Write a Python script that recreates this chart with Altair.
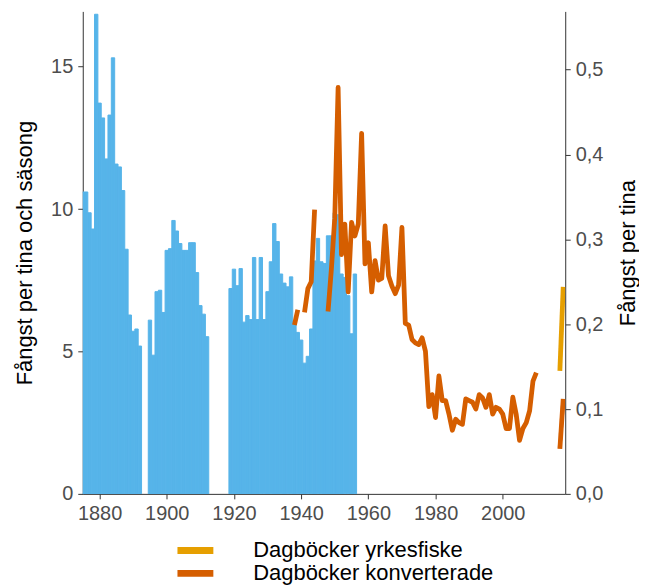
import altair as alt
import pandas as pd

# ---- data ----
bar_years = list(range(1875, 1893)) + list(range(1895, 1913)) + list(range(1919, 1957))
bar_values = [
    10.6, 10.6, 9.87, 9.3, 16.84, 13.72, 13.2, 11.76, 13.3, 15.31, 11.58, 11.48,
    10.65, 8.59, 6.28, 5.71, 5.79, 5.19,
    6.1, 4.87, 7.1, 7.15, 6.37, 8.55, 8.61, 9.6, 9.23, 8.79, 8.55, 8.55, 8.82,
    8.82, 7.77, 6.61, 6.31, 5.52,
    7.21, 7.89, 7.31, 7.91, 6.03, 6.26, 6.12, 8.3, 6.12, 8.3, 6.12, 7.1, 8.15,
    9.49, 8.86, 7.72, 7.4, 7.27, 7.62, 6.05, 5.67, 5.4, 4.59, 4.83, 5.79, 8.18,
    8.97, 8.15, 8.09, 9.06, 9.06, 9.87, 9.8, 7.72, 7.6, 6.96, 5.62, 7.72,
]

konv_years = [1938, 1939, 1941, 1942, 1943, 1944] + list(range(1948, 2011)) + [2017, 2018]
konv_values = [
    0.199, 0.217, 0.214, 0.242, 0.25, 0.335,
    0.215, 0.265, 0.325, 0.479, 0.282, 0.318, 0.238, 0.32, 0.304, 0.318, 0.425,
    0.271, 0.296, 0.238, 0.275, 0.252, 0.254, 0.316, 0.257, 0.245, 0.236, 0.246,
    0.314, 0.201, 0.199, 0.182, 0.178, 0.176, 0.184, 0.168, 0.103, 0.117, 0.090,
    0.139, 0.110, 0.110, 0.094, 0.075, 0.088, 0.084, 0.082, 0.112, 0.110, 0.108,
    0.100, 0.117, 0.113, 0.102, 0.117, 0.094, 0.102, 0.100, 0.094, 0.077, 0.077,
    0.114, 0.094, 0.063, 0.077, 0.084, 0.098, 0.133, 0.143,
    0.053, 0.112,
]

yrke_years = [2017, 2018]
yrke_values = [0.145, 0.244]

series_names = ["Dagböcker yrkesfiske", "Dagböcker konverterade"]
series_colors = ["#E69F00", "#D55E00"]
x_ticks = [1880, 1900, 1920, 1940, 1960, 1980, 2000]
left_ticks = [0, 5, 10, 15]
right_ticks = [0.0, 0.1, 0.2, 0.3, 0.4, 0.5]


def segment_ids(years, start):
    seg, out, prev = start, [], None
    for y in years:
        if prev is not None and y - prev > 1:
            seg += 1
        out.append(seg)
        prev = y
    return out


bars_df = pd.DataFrame({"year": bar_years, "value": bar_values})
lines_df = pd.concat([
    pd.DataFrame({"year": konv_years, "value": konv_values,
                  "source": series_names[1], "seg": segment_ids(konv_years, 0)}),
    pd.DataFrame({"year": yrke_years, "value": yrke_values,
                  "source": series_names[0], "seg": segment_ids(yrke_years, 100)}),
], ignore_index=True)

FONT = "Liberation Sans"
xscale = alt.Scale(domain=[1875, 2018.6], nice=False, zero=False)

bars = alt.Chart(bars_df).transform_calculate(
    x0="datum.year - 0.5", x1="datum.year + 0.5"
).mark_bar(color="#56B4E9", stroke="#56B4E9", strokeWidth=1, clip=True).encode(
    x=alt.X("x0:Q", scale=xscale,
            axis=alt.Axis(values=x_ticks, format="d", title=None, labelFlush=False)),
    x2="x1:Q",
    y=alt.Y("value:Q", scale=alt.Scale(domain=[0, 16.94], nice=False),
            axis=alt.Axis(values=left_ticks, orient="left", labelFlush=False,
                          title="Fångst per tina och säsong", titlePadding=14)),
    y2=alt.datum(0),
)

lines = alt.Chart(lines_df).mark_line(strokeWidth=4.8, strokeJoin="round", clip=True).encode(
    x=alt.X("year:Q", scale=xscale),
    y=alt.Y("value:Q", scale=alt.Scale(domain=[0, 0.5687], nice=False),
            axis=alt.Axis(values=right_ticks, orient="right", labelFlush=False,
                          labelExpr="replace(format(datum.value, '.1f'), '.', ',')",
                          title="Fångst per tina", titleAngle=270, titleBaseline="top",
                          titlePadding=15)),
    color=alt.Color("source:N",
                    scale=alt.Scale(domain=series_names, range=series_colors),
                    legend=alt.Legend(title=None, orient="none", legendX=95, legendY=530,
                                      direction="vertical", symbolType="M-5,0H5",
                                      symbolSize=100, symbolStrokeWidth=7,
                                      labelOffset=54, labelFontSize=22, labelLimit=0,
                                      labelColor="black", labelFont=FONT,
                                      clipHeight=21.5, rowPadding=0)),
    detail="seg:N",
)

chart = alt.layer(bars, lines).resolve_scale(y="independent").properties(
    width=484, height=484,
    padding={"left": 5, "top": 2.5, "right": 0, "bottom": 0},
).configure_view(stroke=None).configure_axis(
    grid=False, domainColor="#333333", tickColor="#333333", tickSize=5,
    labelColor="#4D4D4D", labelFontSize=20, labelFont=FONT, labelPadding=5,
    titleColor="black", titleFontSize=22, titleFont=FONT, titleFontWeight="normal",
)

chart.save("out.html", embed_options={"renderer": "svg", "actions": False})
